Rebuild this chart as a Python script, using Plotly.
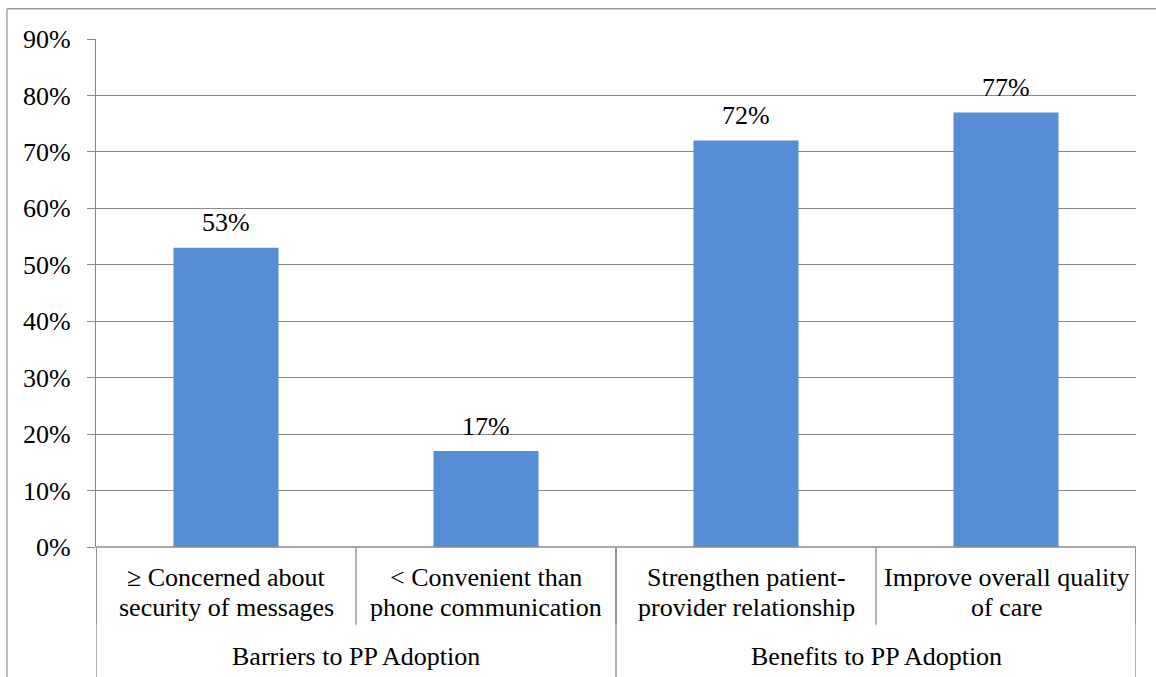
import plotly.graph_objects as go

# Survey results: share of respondents per item
items = [
    "≥ Concerned about<br>security of messages",
    "< Convenient than<br>phone communication",
    "Strengthen patient-<br>provider relationship",
    "Improve overall quality<br>of care",
]
values = [53, 17, 72, 77]
groups = ["Barriers to PP Adoption", "Benefits to PP Adoption"]
group_members = [[0, 1], [2, 3]]

FONT = "Liberation Serif"
SIZE = 26
GRID = "#8a8a8a"
FRAME = "#9a9a9a"
BAR = "#558ED5"
TXT = dict(family=FONT, size=SIZE, color="black")

positions = list(range(len(items)))

fig = go.Figure(
    go.Bar(
        x=positions,
        y=values,
        marker=dict(color=BAR, line=dict(width=0)),
        width=0.404,
        hoverinfo="skip",
    )
)

# value labels above each bar
for i, v in enumerate(values):
    fig.add_annotation(
        x=i, y=v, xref="x", yref="y", text=f"{v}%", showarrow=False,
        yanchor="middle", yshift=25, font=TXT,
    )

# inner category labels, one annotation per line for tight line spacing
line_y = [-0.06, -0.12]
for i, lab in enumerate(items):
    for ly, part in zip(line_y, lab.split("<br>")):
        fig.add_annotation(
            x=i, y=ly, xref="x", yref="paper", text=part, showarrow=False,
            yanchor="middle", font=TXT,
        )

# outer group labels
for g, members in zip(groups, group_members):
    fig.add_annotation(
        x=sum(members) / len(members), y=-0.2156, xref="x", yref="paper", text=g,
        showarrow=False, yanchor="middle", font=TXT,
    )

shapes = []
# separators between inner categories
for b in [-0.5, 0.5, 1.5, 2.5, 3.5]:
    shapes.append(dict(type="line", xref="x", yref="paper", x0=b, x1=b, y0=0, y1=-0.153,
                       line=dict(color=GRID, width=1.3)))
# separators between groups (full height of the label area)
for b in [-0.5, 1.5, 3.5]:
    shapes.append(dict(type="line", xref="x", yref="paper", x0=b, x1=b, y0=0, y1=-0.27,
                       line=dict(color=GRID, width=1.3)))
# x-axis baseline
shapes.append(dict(type="line", xref="x", yref="paper", x0=-0.5, x1=3.5, y0=0, y1=0,
                   line=dict(color=GRID, width=1.3)))
# outer chart frame
shapes.append(dict(type="line", xref="paper", yref="paper", x0=-0.0856, x1=-0.0856,
                   y0=1.0595, y1=-0.3, line=dict(color=FRAME, width=1.3)))
shapes.append(dict(type="line", xref="paper", yref="paper", x0=-0.0856, x1=1.05,
                   y0=1.0595, y1=1.0595, line=dict(color=FRAME, width=1.3)))

fig.update_layout(
    width=1156, height=677,
    margin=dict(l=96, r=20, t=39, b=130),
    paper_bgcolor="white", plot_bgcolor="white",
    showlegend=False,
    shapes=shapes,
    font=TXT,
    xaxis=dict(
        range=[-0.5, 3.5], showticklabels=False, showgrid=False, zeroline=False,
        showline=False, ticks="", fixedrange=True,
    ),
    yaxis=dict(
        range=[0, 90], dtick=10, ticksuffix="%", showgrid=True, gridcolor=GRID,
        gridwidth=1.3, zeroline=False, showline=True, linecolor=GRID, linewidth=1.3,
        ticks="outside", ticklen=8, tickcolor=GRID, tickwidth=1.3,
        ticklabelstandoff=11, tickfont=TXT, fixedrange=True,
    ),
)

fig.write_html("out.html")
